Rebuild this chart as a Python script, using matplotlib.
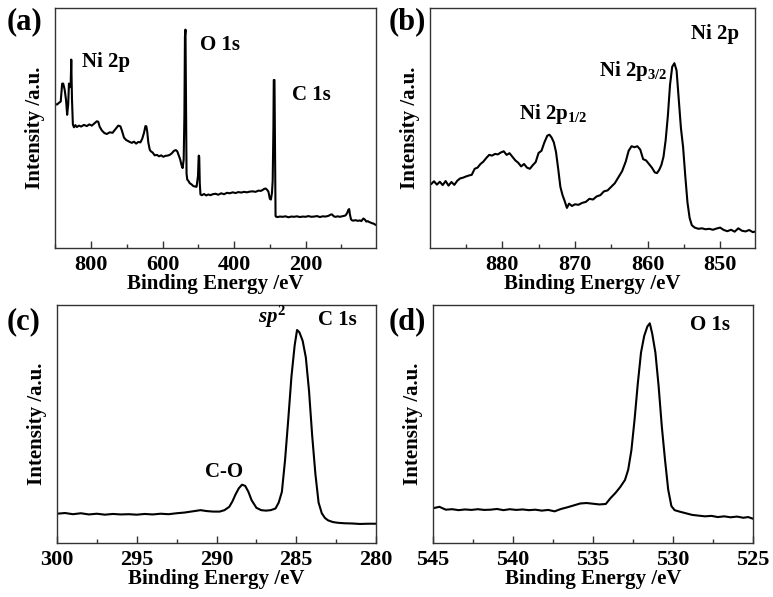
import matplotlib
matplotlib.use("Agg")
import matplotlib.pyplot as plt
from matplotlib.ticker import MultipleLocator

plt.rcParams['font.family'] = ['Liberation Serif', 'DejaVu Serif']
plt.rcParams['font.weight'] = 'bold'
plt.rcParams['mathtext.fontset'] = 'custom'
plt.rcParams['mathtext.rm'] = 'Liberation Serif:bold'
plt.rcParams['mathtext.it'] = 'Liberation Serif:italic:bold'
plt.rcParams['mathtext.bf'] = 'Liberation Serif:bold'

# (a) survey spectrum: binding energy (eV) and intensity (a.u.)
survey_be = [901, 895, 890, 885, 881, 878, 874, 870, 867, 864,
             862, 859, 857, 855.5, 853.5, 851, 848, 844, 840, 834,
             828, 820, 812, 805, 798, 790, 784, 780, 776, 770,
             763, 756, 748, 740, 732, 724, 718, 714, 708, 702,
             697, 692, 686, 680, 674, 668, 662, 657, 652, 648,
             645.5, 643, 640, 636, 633, 628, 622, 616, 610, 604,
             598, 592, 586, 580, 574, 568, 563, 559, 555, 551,
             547, 544, 541, 539, 537.5, 536, 534.5, 533, 531, 528,
             524, 519, 514, 509, 505, 501, 499, 497.5, 496, 494,
             490, 484, 478, 472, 466, 460, 452, 444, 436, 428,
             420, 412, 404, 396, 388, 380, 372, 364, 356, 348,
             340, 332, 325, 320, 316, 312, 308, 304, 300, 297,
             294, 292, 290, 289, 287, 285.5, 284, 282, 278, 272,
             264, 256, 248, 240, 232, 224, 216, 208, 200, 192,
             184, 176, 168, 160, 152, 144, 136, 130, 126, 123,
             120, 116, 110, 104, 98, 92, 88, 84, 80, 78,
             76, 73, 70, 66, 60, 54, 48, 44, 41, 38,
             34, 30, 26, 22, 18, 14, 10, 6, 3]
survey_int = [60.0, 59.8, 60.5, 61.0, 68.5, 68.5, 66.0, 61.5, 55.5, 60.0,
              68.5, 67.0, 69.0, 78.5, 62.0, 51.5, 50.3, 51.2, 50.4, 51.0,
              50.6, 51.3, 50.8, 51.5, 51.0, 52.0, 52.8, 52.6, 50.5, 49.0,
              47.9, 47.5, 48.2, 48.0, 49.5, 51.0, 50.7, 49.0, 46.0, 45.0,
              44.6, 44.2, 43.8, 44.3, 43.5, 44.2, 44.0, 45.5, 48.0, 50.8,
              50.7, 48.5, 44.0, 41.0, 40.3, 39.8, 38.6, 38.8, 38.2, 38.6,
              38.0, 38.4, 38.5, 38.8, 39.5, 40.5, 40.8, 40.3, 38.6, 37.0,
              34.5, 33.3, 36.8, 55.0, 88.0, 91.0, 60.0, 31.0, 28.5, 28.0,
              27.0, 26.5, 25.8, 25.6, 25.5, 30.0, 38.5, 38.0, 27.0, 22.3,
              22.0, 22.5, 21.9, 22.3, 22.0, 22.4, 22.6, 22.2, 22.8, 22.4,
              23.0, 22.8, 23.2, 22.9, 23.3, 23.1, 23.4, 23.2, 23.5, 23.6,
              23.4, 23.9, 23.8, 24.2, 24.6, 24.8, 24.3, 23.5, 20.5, 20.2,
              23.0, 28.0, 50.0, 70.0, 70.0, 40.0, 13.3, 13.0, 12.9, 13.1,
              13.0, 13.2, 12.8, 13.1, 13.0, 13.2, 12.9, 13.1, 13.0, 13.3,
              13.0, 13.1, 13.3, 12.9, 13.2, 13.1, 13.4, 13.9, 14.0, 13.5,
              13.1, 13.0, 13.2, 13.0, 13.2, 13.4, 13.6, 14.5, 16.0, 16.2,
              14.0, 12.0, 11.5, 11.4, 11.6, 11.3, 11.5, 11.2, 11.8, 12.3,
              11.8, 11.0, 11.2, 10.8, 10.6, 10.3, 10.2, 9.8, 9.6]

# (b) Ni 2p
ni_be = [890.3, 889.8, 889.4, 889.0, 888.6, 888.2, 887.8, 887.4, 887.0, 886.6,
         886.2, 885.8, 885.4, 885.0, 884.6, 884.2, 883.8, 883.4, 883.0, 882.6,
         882.2, 881.8, 881.4, 881.0, 880.6, 880.2, 879.8, 879.4, 879.0, 878.6,
         878.2, 877.8, 877.4, 877.0, 876.6, 876.2, 875.8, 875.4, 875.0, 874.6,
         874.2, 873.8, 873.5, 873.2, 872.9, 872.6, 872.3, 872.0, 871.7, 871.4,
         871.1, 870.8, 870.4, 870.0, 869.5, 869.0, 868.5, 868.0, 867.5, 867.0,
         866.5, 866.0, 865.5, 865.0, 864.5, 864.0, 863.5, 863.0, 862.6, 862.2,
         861.8, 861.4, 861.0, 860.6, 860.2, 859.8, 859.4, 859.0, 858.7, 858.4,
         858.1, 857.8, 857.5, 857.2, 856.9, 856.6, 856.3, 856.0, 855.7, 855.4,
         855.1, 854.8, 854.5, 854.2, 853.9, 853.5, 853.0, 852.5, 852.0, 851.5,
         851.0, 850.5, 850.0, 849.5, 849.0, 848.5, 848.0, 847.5, 847.0, 846.5,
         846.0, 845.5, 845.1]
ni_int = [27.2, 26.6, 27.8, 26.4, 27.6, 26.2, 27.9, 26.0, 27.5, 26.3,
          28.0, 29.0, 29.3, 29.8, 30.2, 30.5, 33.0, 33.5, 35.0, 36.0,
          37.5, 38.8, 38.5, 39.2, 39.0, 39.8, 40.3, 38.8, 39.5, 38.0,
          36.5, 35.5, 34.0, 35.0, 33.5, 33.0, 34.5, 35.8, 39.6, 40.5,
          44.0, 46.8, 47.2, 46.0, 44.0, 40.0, 33.0, 25.5, 22.0, 19.5,
          16.7, 18.5, 17.5, 18.2, 18.0, 18.8, 19.2, 20.5, 20.2, 21.5,
          22.0, 23.6, 24.0, 25.5, 27.0, 29.5, 32.0, 36.0, 40.5, 42.4,
          42.0, 42.4, 41.0, 37.0, 36.5, 35.0, 33.5, 31.5, 31.2, 32.5,
          34.5, 38.0, 45.0, 55.0, 68.0, 75.5, 77.0, 74.0, 62.0, 50.0,
          42.0, 30.0, 19.0, 12.5, 9.5, 8.5, 8.0, 8.2, 7.8, 8.0,
          7.6, 8.1, 8.5, 7.5, 7.0, 7.6, 6.8, 8.2, 7.2, 6.9,
          7.5, 6.6, 6.9]

# (c) C 1s
c_be = [300.0, 299.5, 299.0, 298.5, 298.0, 297.5, 297.0, 296.5, 296.0, 295.5,
        295.0, 294.5, 294.0, 293.5, 293.0, 292.5, 292.0, 291.5, 291.0, 290.6,
        290.2, 289.8, 289.5, 289.2, 289.0, 288.8, 288.6, 288.4, 288.2, 288.0,
        287.8, 287.5, 287.2, 286.9, 286.6, 286.3, 286.1, 285.9, 285.7, 285.5,
        285.3, 285.1, 284.95, 284.8, 284.6, 284.4, 284.2, 284.0, 283.8, 283.6,
        283.4, 283.2, 283.0, 282.7, 282.4, 282.0, 281.5, 281.0, 280.5, 280.0]
c_int = [12.3, 12.6, 12.1, 12.5, 12.0, 12.3, 11.9, 12.2, 12.0, 12.1,
         11.9, 12.2, 12.0, 12.3, 12.1, 12.5, 12.8, 13.3, 13.8, 13.4,
         13.2, 13.2, 13.8, 15.2, 17.5, 20.5, 23.0, 24.5, 24.0, 21.5,
         18.0, 14.8, 13.8, 13.6, 13.8, 14.5, 17.0, 21.5, 35.0, 52.0,
         70.0, 83.0, 89.5, 88.5, 85.0, 78.0, 64.0, 45.0, 29.0, 17.0,
         12.5, 10.5, 9.5, 8.8, 8.5, 8.3, 8.2, 8.0, 8.1, 8.1]

# (d) O 1s
o_be = [545.0, 544.6, 544.2, 543.8, 543.4, 543.0, 542.6, 542.2, 541.8, 541.4,
        541.0, 540.6, 540.2, 539.8, 539.4, 539.0, 538.6, 538.2, 537.8, 537.4,
        537.0, 536.6, 536.2, 535.8, 535.4, 535.0, 534.6, 534.2, 533.9, 533.6,
        533.3, 533.0, 532.8, 532.6, 532.4, 532.2, 532.0, 531.8, 531.6, 531.45,
        531.3, 531.1, 530.9, 530.7, 530.5, 530.3, 530.1, 529.9, 529.6, 529.2,
        528.8, 528.4, 528.0, 527.6, 527.2, 526.8, 526.4, 526.0, 525.6, 525.3,
        525.0]
o_int = [14.6, 15.2, 14.0, 14.2, 13.8, 14.1, 13.9, 14.2, 13.9, 14.0,
         14.3, 13.8, 14.2, 13.9, 14.1, 13.8, 14.0, 13.6, 13.9, 13.3,
         14.3, 15.0, 15.8, 16.6, 16.8, 16.5, 16.2, 16.4, 18.9, 21.0,
         23.5, 26.5, 30.8, 39.0, 52.0, 67.0, 80.0, 87.0, 91.0, 92.3,
         88.0, 80.0, 66.0, 49.0, 35.0, 22.4, 15.5, 13.8, 13.2, 12.5,
         11.8, 11.5, 11.2, 11.4, 10.9, 11.2, 10.8, 11.1, 10.6, 10.9,
         10.2]

W, H = 773, 597
fig = plt.figure(figsize=(W / 100, H / 100), dpi=100)

def px(x0, y0, x1, y1):
    return [x0 / W, 1 - y1 / H, (x1 - x0) / W, (y1 - y0) / H]

spine_c = '#333333'
tick_fs = 16
lab_fs = 15

def style(ax, xlim, major, minor):
    ax.set_xlim(*xlim)
    ax.set_ylim(0, 100)
    ax.set_yticks([])
    ax.xaxis.set_major_locator(MultipleLocator(major))
    ax.xaxis.set_minor_locator(MultipleLocator(minor))
    ax.tick_params(axis='x', which='major', direction='in', length=5, width=1, color=spine_c,
                   labelsize=tick_fs, pad=5)
    ax.tick_params(axis='x', which='minor', direction='in', length=3, width=1, color=spine_c)
    for s in ax.spines.values():
        s.set_color(spine_c)
        s.set_linewidth(1.0)
    for lbl in ax.get_xticklabels():
        lbl.set_fontweight('bold')
    ax.set_xlabel('Binding Energy /eV', fontsize=lab_fs, fontweight='bold', labelpad=-1)
    ax.set_ylabel('Intensity /a.u.', fontsize=lab_fs, fontweight='bold', labelpad=7)

lw = 1.5
ax_a = fig.add_axes(px(55, 8, 376, 248))
ax_a.plot(survey_be, survey_int, color='black', lw=lw)
style(ax_a, (901, 3), 200, 100)

ax_b = fig.add_axes(px(430, 8, 755, 248))
ax_b.plot(ni_be, ni_int, color='black', lw=lw)
style(ax_b, (889.95, 845.2), 10, 5)

ax_c = fig.add_axes(px(57, 305, 376, 543))
ax_c.plot(c_be, c_int, color='black', lw=lw)
style(ax_c, (300, 280), 5, 2.5)

ax_d = fig.add_axes(px(433, 305, 753, 543))
ax_d.plot(o_be, o_int, color='black', lw=lw)
style(ax_d, (545, 525), 5, 2.5)

def ftext(x, y, s, size=15, **kw):
    fig.text(x / W, 1 - y / H, s, fontsize=size, fontweight='bold', ha='center', va='center', **kw)

# panel labels
ftext(24, 22, '(a)', size=22)
ftext(407, 22, '(b)', size=22)
ftext(24, 322, '(c)', size=22)
ftext(407, 322, '(d)', size=22)

# annotations
ftext(106, 62, 'Ni 2p')
ftext(220, 45, 'O 1s')
ftext(311, 95, 'C 1s')
ftext(715, 34, 'Ni 2p')
ftext(633, 71, r'Ni 2p$_{3/2}$')
ftext(553, 114, r'Ni 2p$_{1/2}$')
ftext(272, 317, r'$\mathit{sp}^{2}$')
ftext(337, 320, 'C 1s')
ftext(224, 472, 'C-O')
ftext(710, 325, 'O 1s')

fig.savefig('out.png', dpi=100)
